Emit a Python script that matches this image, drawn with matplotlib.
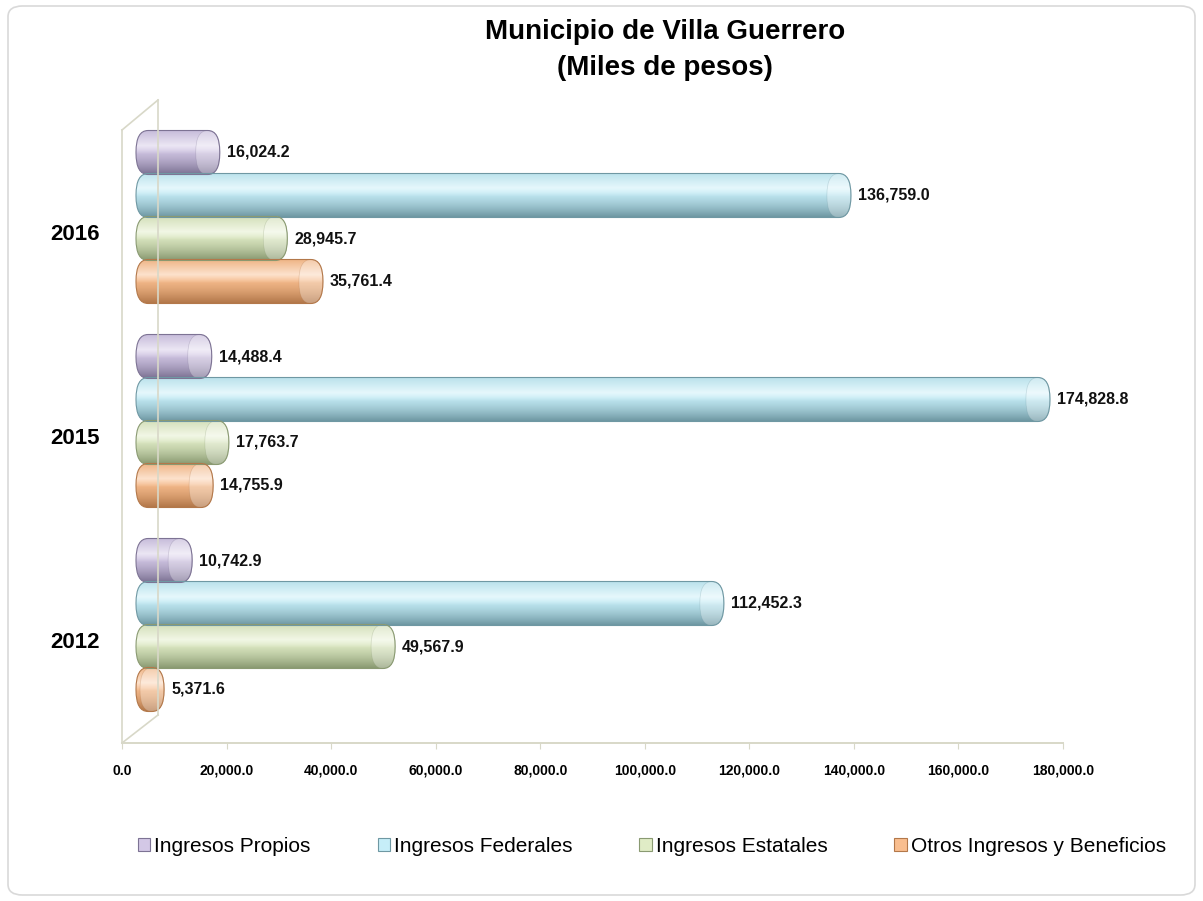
import matplotlib
matplotlib.use("Agg")
import matplotlib.pyplot as plt
import matplotlib.transforms as mtransforms
from matplotlib.patches import FancyBboxPatch, Rectangle
from matplotlib.lines import Line2D
import numpy as np
from matplotlib.colors import to_rgb

plt.rcParams['font.family'] = ['Liberation Sans', 'DejaVu Sans']

years = ["2012", "2015", "2016"]
series = ["Ingresos Propios", "Ingresos Federales", "Ingresos Estatales",
          "Otros Ingresos y Beneficios"]
propios = [10742.9, 14488.4, 16024.2]
federales = [112452.3, 174828.8, 136759.0]
estatales = [49567.9, 17763.7, 28945.7]
otros = [5371.6, 14755.9, 35761.4]
values = [propios, federales, estatales, otros]
xticks = [0, 20000, 40000, 60000, 80000, 100000, 120000, 140000, 160000, 180000]

colors = ["#d3c8e6", "#c6eef8", "#e0ecc6", "#f9be8f"]
darks = ["#7d7394", "#6f98a3", "#8a9a72", "#b3784a"]

W, H = 1203, 901
fig = plt.figure(figsize=(W / 100, H / 100), dpi=100)
fig.patch.set_facecolor("white")

# outer rounded frame
frame = FancyBboxPatch((8 / W, 6 / H), (W - 16) / W, (H - 12) / H,
                       boxstyle="round,pad=0,rounding_size=0.012",
                       transform=fig.transFigure, fc="none", ec="#d9d9d9", lw=1.2,
                       zorder=-5)
fig.patches.append(frame)

ax_l, ax_r, ax_b, ax_t = 122, 1063, 743, 100
ax = fig.add_axes([ax_l / W, (H - ax_b) / H, (ax_r - ax_l) / W, (ax_b - ax_t) / H])
ax.set_facecolor("none")
unit = 204.0
ylo = -103 / unit
for s in ax.spines.values():
    s.set_visible(False)

ypos = np.arange(len(years))
pitch = 43 / unit
bh = 44 / unit
offsets = [1.5, 0.5, -0.5, -1.5]

# 3D depth offset
depth = mtransforms.ScaledTranslation(0.14, 0.15, fig.dpi_scale_trans)
tr = ax.transData + depth

# back wall lines
wall = "#d8d8c8"
fig.add_artist(Line2D([ax_l / W, ax_l / W], [(H - 743) / H, (H - 130) / H], color=wall, lw=1.2))
fig.add_artist(Line2D([158 / W, 158 / W], [(H - 715) / H, (H - 100) / H], color=wall, lw=1.2))
fig.add_artist(Line2D([ax_l / W, 158 / W], [(H - 130) / H, (H - 100) / H], color=wall, lw=1.2))
fig.add_artist(Line2D([ax_l / W, 158 / W], [(H - 743) / H, (H - 715) / H], color=wall, lw=1.2))
fig.add_artist(Line2D([ax_l / W, ax_r / W], [(H - 743) / H, (H - 743) / H], color=wall, lw=1.4))

capx = 2300
capy = 0.105

def gradient_img(c, d):
    c = np.array(to_rgb(c)); d = np.array(to_rgb(d))
    t = np.linspace(0, 1, 64)  # 0 bottom .. 1 top
    hi = np.clip(c + (1 - c) * 0.55, 0, 1)
    rows = []
    for v in t:
        if v < 0.65:
            f = v / 0.65
            col = d * (1 - f) ** 1.5 + c * (1 - (1 - f) ** 1.5)
            if f > 0.7:
                g = (f - 0.7) / 0.3
                col = col * (1 - g) + hi * g
        else:
            f = (v - 0.65) / 0.35
            col = hi * (1 - f) + (c * 0.85 + d * 0.15) * f
        rows.append(col)
    img = np.array(rows)[:, None, :]
    return np.repeat(img, 4, axis=1)

for si, (vals, c, d) in enumerate(zip(values, colors, darks)):
    ys = ypos + offsets[si] * pitch
    bars = ax.barh(ys, vals, height=bh, color=c, transform=tr)
    for b, v in zip(bars, vals):
        b.set_visible(False)
        x0, y0, w, h = b.get_x(), b.get_y(), b.get_width(), b.get_height()
        patch = FancyBboxPatch((x0, y0), w, h,
                               boxstyle=f"round,pad=0,rounding_size={capx}",
                               mutation_aspect=capy / capx,
                               fc="none", ec=d, lw=0.8, transform=tr, zorder=3)
        ax.add_patch(patch)
        im = ax.imshow(gradient_img(c, d), extent=[x0, x0 + w, y0, y0 + h],
                       origin="lower", aspect="auto", transform=tr, zorder=2,
                       interpolation="bilinear")
        im.set_clip_path(patch)
        cap = FancyBboxPatch((x0 + w - 2 * capx, y0), 2 * capx, h,
                             boxstyle=f"round,pad=0,rounding_size={capx}",
                             mutation_aspect=capy / capx,
                             fc="white", ec=d, lw=0.5, alpha=0.3, transform=tr, zorder=2.5)
        ax.add_patch(cap)
        ax.annotate(f"{v:,.1f}", xy=(x0 + w, y0 + h / 2), xycoords=tr,
                    xytext=(5, 0), textcoords="offset points",
                    ha="left", va="center", fontsize=11.5, fontweight="bold",
                    color="#111111", zorder=5)

ax.set_ylim(ylo, ylo + (ax_b - ax_t) / unit)
ax.set_xlim(0, 180000)
ax.set_yticks(ypos)
ax.set_yticklabels(years, fontsize=16, fontweight="bold")
ax.tick_params(axis="y", length=0, pad=16)
ax.set_xticks(xticks)
ax.set_xticklabels([f"{t:,.1f}" for t in xticks], fontsize=10, fontweight="bold")
ax.tick_params(axis="x", length=4, color=wall, pad=11)

fig.text(665 / W, 1 - 32 / H, "Municipio de Villa Guerrero", ha="center", va="center",
         fontsize=20, fontweight="bold")
fig.text(665 / W, 1 - 68 / H, "(Miles de pesos)", ha="center", va="center",
         fontsize=20, fontweight="bold")

# legend
handles = [Rectangle((0, 0), 1, 1, fc=c, ec=d, lw=0.8) for c, d in zip(colors, darks)]
leg = fig.legend(handles, series, loc="center", bbox_to_anchor=(652 / W, 1 - 846 / H),
                 ncol=4, frameon=False, handlelength=0.6, handleheight=0.6,
                 handletextpad=0.2, columnspacing=3.2, fontsize=15)

fig.savefig("out.png", dpi=100)
